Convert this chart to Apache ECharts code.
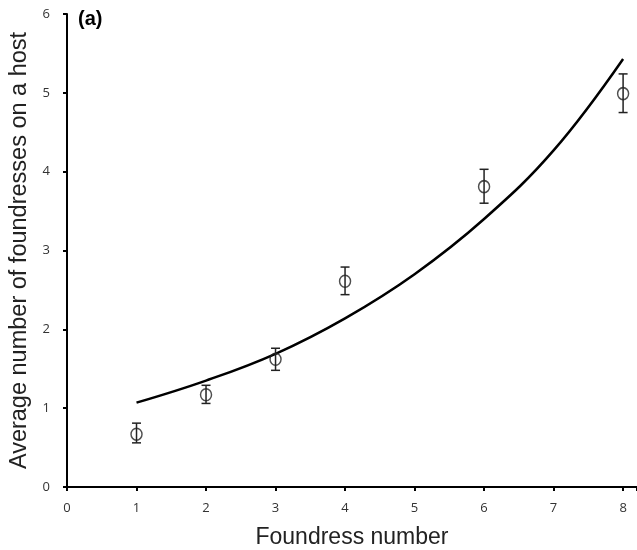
<!DOCTYPE html>
<html>
<head>
<meta charset="utf-8">
<script src="https://cdn.jsdelivr.net/npm/echarts@6/dist/echarts.min.js"></script>
<style>html,body{margin:0;padding:0;background:#fff;}#c{width:637px;height:550px;}</style>
</head>
<body>
<div id="c"></div>
<script>
const foundressNumber = [1, 2, 3, 4, 6, 8];
const meanValues = [0.67, 1.17, 1.62, 2.61, 3.81, 4.99];
const lowerValues = [0.56, 1.06, 1.48, 2.44, 3.60, 4.75];
const upperValues = [0.81, 1.29, 1.76, 2.79, 4.03, 5.24];
const curveX = [1, 2, 3, 4, 5, 6, 7, 8];
const curveY = [1.07, 1.35, 1.69, 2.14, 2.70, 3.40, 4.27, 5.43];
const xTicks = [0, 1, 2, 3, 4, 5, 6, 7, 8];
const yTicks = [0, 1, 2, 3, 4, 5, 6];

const chart = echarts.init(document.getElementById('c'));
const pts = foundressNumber.map((x, i) => [x, meanValues[i]]);
const errs = foundressNumber.map((x, i) => [x, lowerValues[i], upperValues[i]]);
const curve = curveX.map((x, i) => [x, curveY[i]]);

chart.setOption({
  animation: false,
  backgroundColor: '#fff',
  grid: { left: 67, right: 0, top: 14, bottom: 63, containLabel: false, outerBoundsMode: 'none' },
  graphic: [{
    type: 'text', left: 78, top: 9,
    style: { text: '(a)', font: 'bold 20px "Liberation Sans", Arial, sans-serif', fill: '#000' }
  }],
  xAxis: {
    type: 'value', min: 0, max: 8.2, interval: 1,
    name: 'Foundress number', nameLocation: 'middle', nameGap: 39,
    nameTextStyle: { fontSize: 23, color: '#222', fontFamily: '"Liberation Sans", Arial, sans-serif' },
    axisLine: { show: true, lineStyle: { color: '#000', width: 2 } },
    axisTick: { show: true, inside: false, length: 4, lineStyle: { color: '#000', width: 2 } },
    axisLabel: { fontSize: 13, color: '#333', margin: 15, fontFamily: '"Open Sans", "DejaVu Sans", sans-serif',
      formatter: v => xTicks.includes(v) ? String(v) : '' },
    splitLine: { show: false }
  },
  yAxis: {
    type: 'value', min: 0, max: 6, interval: 1,
    name: 'Average number of foundresses on a host', nameLocation: 'middle', nameGap: 32,
    nameTextStyle: { fontSize: 23.5, color: '#222', fontFamily: '"Liberation Sans", Arial, sans-serif' },
    axisLine: { show: true, lineStyle: { color: '#000', width: 2 } },
    axisTick: { show: true, inside: false, length: 4, lineStyle: { color: '#000', width: 2 } },
    axisLabel: { fontSize: 13, color: '#333', margin: 17, fontFamily: '"Open Sans", "DejaVu Sans", sans-serif',
      formatter: v => yTicks.includes(v) ? String(v) : '' },
    splitLine: { show: false }
  },
  series: [
    {
      type: 'line', data: curve, smooth: 0.4, showSymbol: false, symbol: 'none',
      lineStyle: { color: '#000', width: 2.5 }, z: 2
    },
    {
      type: 'custom', data: errs, z: 3,
      renderItem: function (params, api) {
        const x = api.value(0);
        const lo = api.coord([x, api.value(1)]);
        const hi = api.coord([x, api.value(2)]);
        const cap = 4.5;
        const style = { stroke: '#222', lineWidth: 1.5, fill: null };
        return {
          type: 'group', children: [
            { type: 'line', shape: { x1: lo[0], y1: lo[1], x2: hi[0], y2: hi[1] }, style },
            { type: 'line', shape: { x1: lo[0] - cap, y1: lo[1], x2: lo[0] + cap, y2: lo[1] }, style },
            { type: 'line', shape: { x1: hi[0] - cap, y1: hi[1], x2: hi[0] + cap, y2: hi[1] }, style }
          ]
        };
      }
    },
    {
      type: 'scatter', data: pts, symbol: 'circle', symbolSize: [11, 12], z: 4,
      itemStyle: { color: 'rgba(0,0,0,0)', borderColor: '#222', borderWidth: 1.5 }
    }
  ]
});
</script>
</body>
</html>
